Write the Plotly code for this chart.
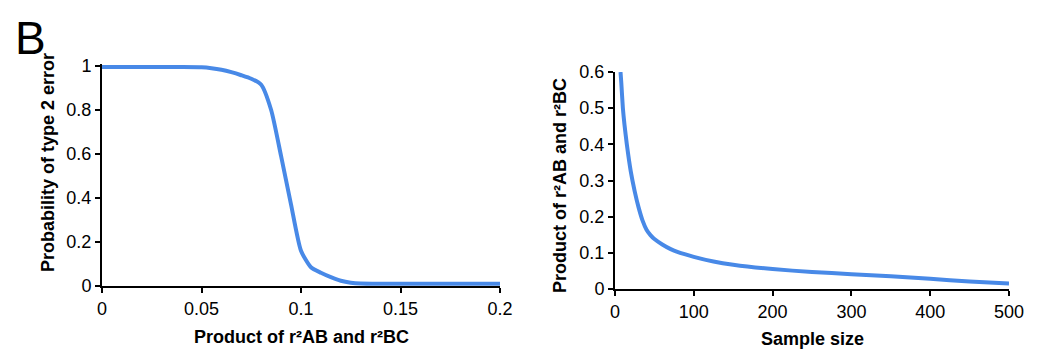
import plotly.graph_objects as go

# ---------------- data ----------------
# Left panel: probability of type 2 error vs product of r2AB and r2BC
prod_x = [0.0, 0.01, 0.02, 0.03, 0.04, 0.05, 0.055, 0.06, 0.065, 0.07, 0.075, 0.08,
          0.085, 0.09, 0.095, 0.1, 0.105, 0.11, 0.115, 0.12, 0.125, 0.13, 0.14,
          0.15, 0.16, 0.17, 0.18, 0.19, 0.2]
prob_type2 = [0.995, 0.995, 0.995, 0.995, 0.995, 0.994, 0.99, 0.983, 0.972, 0.958, 0.942, 0.915,
              0.80, 0.59, 0.37, 0.16, 0.085, 0.06, 0.04, 0.024, 0.015, 0.011, 0.01,
              0.01, 0.01, 0.01, 0.01, 0.01, 0.01]

# Right panel: detectable product of r2AB and r2BC vs sample size
sample_size = [7, 8, 10, 12, 15, 20, 25, 30, 35, 40, 45, 50, 60, 70, 80, 100, 125, 150,
               200, 250, 300, 350, 400, 450, 500]
prod_detect = [0.60, 0.57, 0.50, 0.455, 0.40, 0.325, 0.27, 0.225, 0.189, 0.164, 0.149, 0.138,
               0.123, 0.111, 0.102, 0.089, 0.076, 0.067, 0.055, 0.047, 0.041, 0.035,
               0.028, 0.021, 0.015]

left_xticks = [0, 0.05, 0.1, 0.15, 0.2]
left_xticktext = ["0", "0.05", "0.1", "0.15", "0.2"]
left_yticks = [0, 0.2, 0.4, 0.6, 0.8, 1]
left_yticktext = ["0", "0.2", "0.4", "0.6", "0.8", "1"]
right_xticks = [0, 100, 200, 300, 400, 500]
right_yticks = [0, 0.1, 0.2, 0.3, 0.4, 0.5, 0.6]
right_yticktext = ["0", "0.1", "0.2", "0.3", "0.4", "0.5", "0.6"]

left_xtitle = "<b>Product of r²AB and r²BC</b>"
left_ytitle = "<b>Probability of type 2 error</b>"
right_xtitle = "<b>Sample size</b>"
right_ytitle = "<b>Product of r²AB and r²BC</b>"
panel_label = "B"

# ---------------- figure ----------------
W, H = 1045, 350
FONT = "Liberation Sans, Arial, sans-serif"
LINE = "rgb(72,137,231)"

def px_x(p):
    return p / W

def px_y(p):
    return 1 - p / H

fig = go.Figure()
fig.add_trace(go.Scatter(x=prod_x, y=prob_type2, mode="lines",
                         line=dict(color=LINE, width=4, shape="spline", smoothing=0.6),
                         xaxis="x", yaxis="y", showlegend=False))
fig.add_trace(go.Scatter(x=sample_size, y=prod_detect, mode="lines",
                         line=dict(color=LINE, width=4, shape="spline", smoothing=0.5),
                         xaxis="x2", yaxis="y2", showlegend=False))

axis_common = dict(showline=True, linecolor="black", linewidth=2, ticks="outside",
                   ticklen=5, tickwidth=2, tickcolor="black", showgrid=False,
                   zeroline=False, automargin=False,
                   tickfont=dict(family=FONT, size=18, color="black"),
                   fixedrange=True)

ytop_extra = 0.008
fig.update_layout(
    width=W, height=H, margin=dict(l=0, r=0, t=0, b=0, autoexpand=False),
    paper_bgcolor="white", plot_bgcolor="white",
    xaxis=dict(domain=[px_x(102), px_x(500)], range=[0, 0.2], tickvals=left_xticks,
               ticktext=left_xticktext, anchor="y", **axis_common),
    yaxis=dict(domain=[px_y(286), px_y(66 - ytop_extra * 220)], range=[0, 1 + ytop_extra],
               tickvals=left_yticks, ticktext=left_yticktext, anchor="x", **axis_common),
    xaxis2=dict(domain=[px_x(615), px_x(1009)], range=[0, 500], tickvals=right_xticks,
                anchor="y2", **axis_common),
    yaxis2=dict(domain=[px_y(289), px_y(72)], range=[0, 0.6], tickvals=right_yticks,
                ticktext=right_yticktext, anchor="x2", **axis_common),
)

title_font = dict(family=FONT, size=18, color="black")
anns = [
    dict(text=left_xtitle, x=px_x(301), y=px_y(337), textangle=0),
    dict(text=right_xtitle, x=px_x(812), y=px_y(339), textangle=0),
    dict(text=left_ytitle, x=px_x(48), y=px_y(163), textangle=-90),
    dict(text=right_ytitle, x=px_x(560), y=px_y(186), textangle=-90),
]
for a in anns:
    fig.add_annotation(xref="paper", yref="paper", showarrow=False,
                       xanchor="center", yanchor="middle", font=title_font, **a)
fig.add_annotation(text=panel_label, xref="paper", yref="paper", x=px_x(30), y=px_y(38),
                   showarrow=False, xanchor="center", yanchor="middle",
                   font=dict(family=FONT, size=46, color="black"))

fig.write_html("out.html")
